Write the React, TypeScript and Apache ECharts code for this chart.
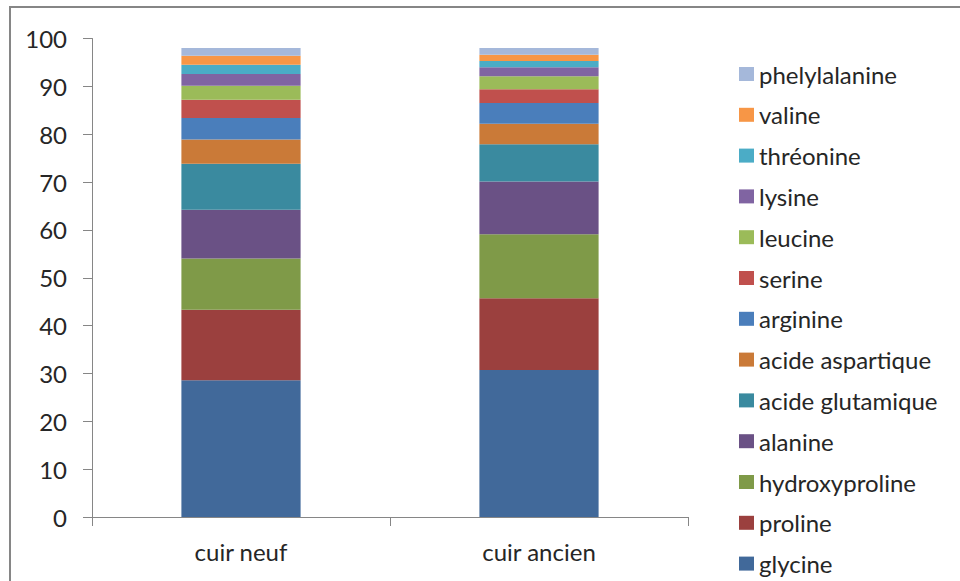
import React, { useEffect, useRef } from "react";
import * as echarts from "echarts";

const categories = ["cuir neuf", "cuir ancien"];
const seriesNames = [
  "glycine",
  "proline",
  "hydroxyproline",
  "alanine",
  "acide glutamique",
  "acide aspartique",
  "arginine",
  "serine",
  "leucine",
  "lysine",
  "thréonine",
  "valine",
  "phelylalanine",
];
const glycine = [28.6, 30.7];
const proline = [14.7, 15.0];
const hydroxyproline = [10.7, 13.4];
const alanine = [10.2, 11.0];
const acideGlutamique = [9.6, 7.8];
const acideAspartique = [5.1, 4.3];
const arginine = [4.5, 4.3];
const serine = [3.8, 2.9];
const leucine = [2.9, 2.7];
const lysine = [2.5, 1.9];
const threonine = [1.9, 1.3];
const valine = [1.9, 1.3];
const phelylalanine = [1.6, 1.4];
const seriesValues = [
  glycine,
  proline,
  hydroxyproline,
  alanine,
  acideGlutamique,
  acideAspartique,
  arginine,
  serine,
  leucine,
  lysine,
  threonine,
  valine,
  phelylalanine,
];
const colors = [
  "#41699A",
  "#9B403E",
  "#7F9A48",
  "#6A5185",
  "#3A8A9F",
  "#CA7A38",
  "#4A7EBB",
  "#C0504D",
  "#9BBB59",
  "#8064A2",
  "#4BACC6",
  "#F79646",
  "#A5B8DA",
];
const yTicks = { min: 0, max: 100, interval: 10 };

const FONT = "Lato, 'Open Sans', sans-serif";
const TEXT_COLOR = "#262626";
const AXIS_COLOR = "#868686";

export default function App() {
  const ref = useRef<HTMLDivElement>(null);
  useEffect(() => {
    if (!ref.current) return;
    const chart = echarts.init(ref.current, undefined, { renderer: "svg" });
    chart.setOption({
      animation: false,
      backgroundColor: "#ffffff",
      color: colors,
      textStyle: { fontFamily: FONT },
      grid: { left: 92, right: 272, top: 38.5, bottom: 64, containLabel: false },
      graphic: [
        {
          type: "rect",
          shape: { x: 10, y: 7, width: 1200, height: 1200 },
          style: { fill: "none", stroke: AXIS_COLOR, lineWidth: 2 },
          silent: true,
        },
      ],
      legend: {
        orient: "vertical",
        left: 739,
        top: 62,
        height: 519,
        padding: 0,
        itemWidth: 15,
        itemHeight: 14,
        itemGap: 16.8,
        icon: "rect",
        data: seriesNames.slice().reverse(),
        textStyle: {
          fontFamily: FONT,
          fontSize: 24,
          lineHeight: 24,
          color: TEXT_COLOR,
        },
      },
      xAxis: {
        type: "category",
        data: categories,
        boundaryGap: true,
        axisLine: { show: true, lineStyle: { color: AXIS_COLOR, width: 1 } },
        axisTick: { show: true, length: 9, lineStyle: { color: AXIS_COLOR } },
        axisLabel: {
          fontFamily: FONT,
          fontSize: 24,
          color: TEXT_COLOR,
          margin: 22,
        },
      },
      yAxis: {
        type: "value",
        min: yTicks.min,
        max: yTicks.max,
        interval: yTicks.interval,
        axisLine: { show: true, lineStyle: { color: AXIS_COLOR, width: 1 } },
        axisTick: { show: true, length: 9, lineStyle: { color: AXIS_COLOR } },
        splitLine: { show: false },
        axisLabel: {
          fontFamily: FONT,
          fontSize: 24,
          color: TEXT_COLOR,
          margin: 25,
        },
      },
      series: seriesNames.map((name, i) => ({
        name,
        type: "bar",
        stack: "total",
        barWidth: "40%",
        data: seriesValues[i],
        itemStyle: { color: colors[i] },
      })),
    });
    return () => chart.dispose();
  }, []);
  return (
    <div
      ref={ref}
      style={{ position: "fixed", left: 0, top: 0, width: 960, height: 581 }}
    />
  );
}
